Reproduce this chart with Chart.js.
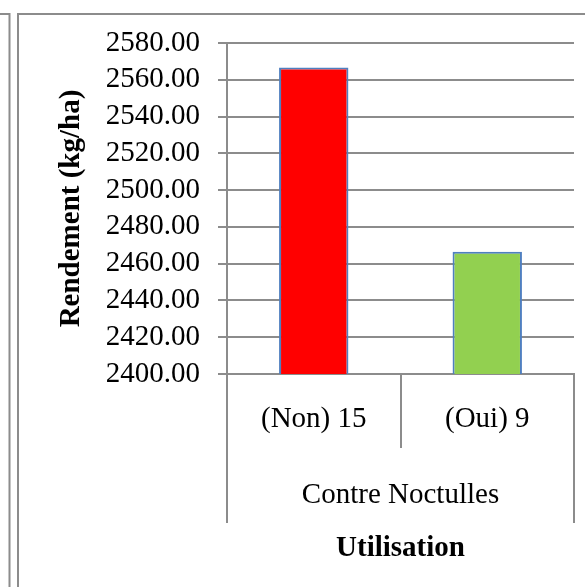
<!DOCTYPE html>
<html>
<head>
<meta charset="utf-8">
<script src="https://cdn.jsdelivr.net/npm/chart.js@4/dist/chart.umd.min.js"></script>
<style>
  html, body { margin: 0; padding: 0; background: #fff; }
  #wrap { position: relative; width: 585px; height: 587px; }
</style>
</head>
<body>
<div id="wrap"><canvas id="c"></canvas></div>
<script>
// Yield by insecticide use against noctuids
const categories = ['(Non) 15', '(Oui) 9'];
const groupLabels = ['Contre Noctulles'];
const rendement = [2566.7, 2466.5];
const barColors = ['#ff0000', '#92d050'];
const yMin = 2400, yMax = 2580, yStep = 20;
const yTitle = 'Rendement (kg/ha)';
const xTitle = 'Utilisation';

const LINE = '#8c8c8c';
const FONT = 'Liberation Serif, Times New Roman, serif';

// Outer frame lines of the figure box (and the neighbouring box edge)
const framePlugin = {
  id: 'frame',
  beforeDraw(chart) {
    const ctx = chart.ctx;
    ctx.save();
    ctx.strokeStyle = LINE;
    ctx.lineWidth = 2;
    ctx.beginPath();
    ctx.moveTo(0, 14); ctx.lineTo(10.5, 14);
    ctx.moveTo(9.5, 13); ctx.lineTo(9.5, 587);
    ctx.moveTo(18, 13); ctx.lineTo(18, 587);
    ctx.moveTo(17, 14); ctx.lineTo(585, 14);
    ctx.stroke();
    ctx.restore();
  }
};

new Chart(document.getElementById('c'), {
  type: 'bar',
  data: {
    labels: categories,
    datasets: [{
      data: rendement,
      backgroundColor: barColors,
      borderColor: '#4f7fc0',
      borderWidth: 2,
      categoryPercentage: 1,
      barPercentage: 0.4,
      xAxisID: 'x',
      yAxisID: 'y'
    }]
  },
  options: {
    responsive: true,
    maintainAspectRatio: false,
    animation: false,
    layout: { padding: { top: 43, right: 11, bottom: 0, left: 0 } },
    plugins: { legend: { display: false }, tooltip: { enabled: false } },
    font: { family: FONT },
    scales: {
      y: {
        min: yMin, max: yMax,
        afterFit(s) { s.width = 227; },
        ticks: {
          stepSize: yStep,
          autoSkip: false,
          padding: 18,
          color: '#000',
          font: { family: FONT, size: 29 },
          callback: v => Number(v).toFixed(2)
        },
        grid: { color: LINE, lineWidth: 2, tickLength: 9, tickColor: LINE },
        border: { display: true, color: LINE, width: 2 },
        title: {
          display: true, text: yTitle, color: '#000',
          font: { family: FONT, size: 29, weight: 'bold' },
          padding: { top: 54, bottom: 0 }
        }
      },
      x: {
        weight: 0,
        afterFit(s) { s.height = 74; },
        ticks: {
          padding: -46,
          maxRotation: 0, autoSkip: false,
          color: '#000',
          font: { family: FONT, size: 29 }
        },
        grid: { offset: true, drawOnChartArea: false, color: LINE, lineWidth: 2, tickLength: 74, tickColor: LINE },
        border: { display: true, color: LINE, width: 2 }
      },
      x2: {
        type: 'category',
        position: 'bottom',
        labels: groupLabels,
        weight: 1,
        offset: true,
        afterFit(s) { s.height = 139; },
        ticks: {
          padding: -45,
          maxRotation: 0, autoSkip: false,
          color: '#000',
          font: { family: FONT, size: 29 }
        },
        grid: { offset: true, drawOnChartArea: false, color: LINE, lineWidth: 2, tickLength: 75, tickColor: LINE },
        border: { display: false },
        title: {
          display: true, text: xTitle, color: '#000',
          font: { family: FONT, size: 29, weight: 'bold' },
          padding: { top: 0, bottom: 21 }
        }
      }
    }
  },
  plugins: [framePlugin]
});
</script>
</body>
</html>
